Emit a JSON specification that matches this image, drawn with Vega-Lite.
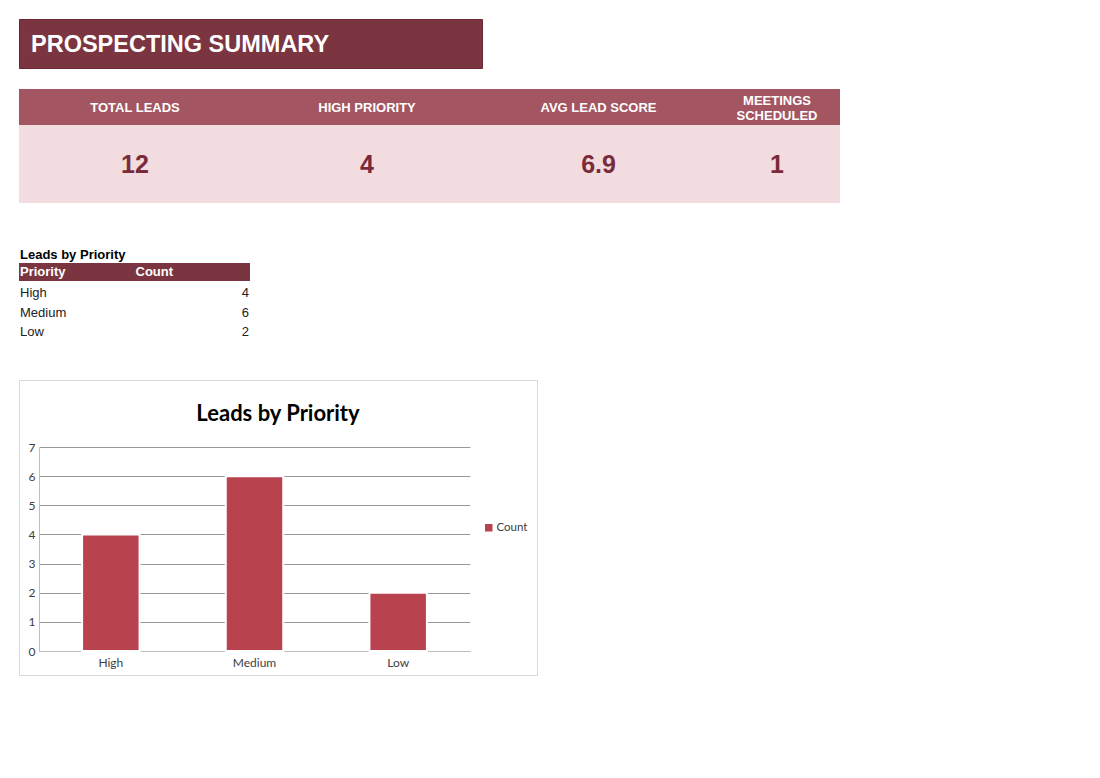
{
  "$schema": "https://vega.github.io/schema/vega-lite/v6.json",
  "background": "white",
  "padding": {"left": 18, "top": 18, "right": 260, "bottom": 100},
  "config": {
    "view": {"stroke": null},
    "font": "Liberation Sans",
    "text": {"font": "Liberation Sans"}
  },
  "datasets": {
    "title": [{"label": "PROSPECTING SUMMARY"}],
    "kpis": [
      {"metric": "TOTAL LEADS", "value": 12},
      {"metric": "HIGH PRIORITY", "value": 4},
      {"metric": "AVG LEAD SCORE", "value": 6.9},
      {"metric": "MEETINGS SCHEDULED", "value": 1}
    ],
    "columns": [{"column": "Priority"}, {"column": "Count"}],
    "priority": [
      {"Priority": "High", "Count": 4},
      {"Priority": "Medium", "Count": 6},
      {"Priority": "Low", "Count": 2}
    ]
  },
  "spacing": 20,
  "vconcat": [
    {
      "width": 463,
      "height": 49,
      "data": {"name": "title"},
      "view": {"fill": "#7B3541", "stroke": "#6A2433", "strokeWidth": 1},
      "mark": {"type": "text", "align": "left", "baseline": "middle", "dx": 12, "dy": 1, "fontSize": 23.5, "fontWeight": "bold", "color": "#FFFFFF"},
      "encoding": {
        "x": {"datum": 0, "type": "quantitative", "scale": {"domain": [0, 1]}, "axis": null},
        "text": {"field": "label", "type": "nominal"}
      }
    },
    {
      "spacing": 46,
      "vconcat": [
        {
          "spacing": 0,
          "hconcat": [
            {
              "spacing": 0,
              "bounds": "flush",
              "vconcat": [
                {"width": 232, "height": 36, "data": {"name": "kpis"}, "transform": [{"filter": "datum.metric == 'TOTAL LEADS'"}], "view": {"fill": "#A35562"},
                 "mark": {"type": "text", "fontSize": 13, "fontWeight": "bold", "color": "#FFFFFF", "dy": 1},
                 "encoding": {"text": {"field": "metric", "type": "nominal"}}},
                {"width": 232, "height": 78, "data": {"name": "kpis"}, "transform": [{"filter": "datum.metric == 'TOTAL LEADS'"}], "view": {"fill": "#F2DCE0"},
                 "mark": {"type": "text", "fontSize": 25, "fontWeight": "bold", "color": "#7A2B3B", "dy": 1},
                 "encoding": {"text": {"field": "value", "type": "quantitative", "format": "~g"}}}
              ]
            },
            {
              "spacing": 0,
              "bounds": "flush",
              "vconcat": [
                {"width": 232, "height": 36, "data": {"name": "kpis"}, "transform": [{"filter": "datum.metric == 'HIGH PRIORITY'"}], "view": {"fill": "#A35562"},
                 "mark": {"type": "text", "fontSize": 13, "fontWeight": "bold", "color": "#FFFFFF", "dy": 1},
                 "encoding": {"text": {"field": "metric", "type": "nominal"}}},
                {"width": 232, "height": 78, "data": {"name": "kpis"}, "transform": [{"filter": "datum.metric == 'HIGH PRIORITY'"}], "view": {"fill": "#F2DCE0"},
                 "mark": {"type": "text", "fontSize": 25, "fontWeight": "bold", "color": "#7A2B3B", "dy": 1},
                 "encoding": {"text": {"field": "value", "type": "quantitative", "format": "~g"}}}
              ]
            },
            {
              "spacing": 0,
              "bounds": "flush",
              "vconcat": [
                {"width": 231, "height": 36, "data": {"name": "kpis"}, "transform": [{"filter": "datum.metric == 'AVG LEAD SCORE'"}], "view": {"fill": "#A35562"},
                 "mark": {"type": "text", "fontSize": 13, "fontWeight": "bold", "color": "#FFFFFF", "dy": 1},
                 "encoding": {"text": {"field": "metric", "type": "nominal"}}},
                {"width": 231, "height": 78, "data": {"name": "kpis"}, "transform": [{"filter": "datum.metric == 'AVG LEAD SCORE'"}], "view": {"fill": "#F2DCE0"},
                 "mark": {"type": "text", "fontSize": 25, "fontWeight": "bold", "color": "#7A2B3B", "dy": 1},
                 "encoding": {"text": {"field": "value", "type": "quantitative", "format": "~g"}}}
              ]
            },
            {
              "spacing": 0,
              "bounds": "flush",
              "vconcat": [
                {"width": 126, "height": 36, "data": {"name": "kpis"}, "transform": [{"filter": "datum.metric == 'MEETINGS SCHEDULED'"}], "view": {"fill": "#A35562"},
                 "mark": {"type": "text", "fontSize": 13, "fontWeight": "bold", "color": "#FFFFFF", "lineBreak": " ", "lineHeight": 15, "dy": -6.5},
                 "encoding": {"text": {"field": "metric", "type": "nominal"}}},
                {"width": 126, "height": 78, "data": {"name": "kpis"}, "transform": [{"filter": "datum.metric == 'MEETINGS SCHEDULED'"}], "view": {"fill": "#F2DCE0"},
                 "mark": {"type": "text", "fontSize": 25, "fontWeight": "bold", "color": "#7A2B3B", "dy": 1},
                 "encoding": {"text": {"field": "value", "type": "quantitative", "format": "~g"}}}
              ]
            }
          ]
        },
        {
          "spacing": 37,
          "vconcat": [
            {
              "spacing": 2,
              "vconcat": [
                {
                  "width": 231,
                  "height": 18,
                  "title": {"text": "Leads by Priority", "anchor": "start", "fontSize": 13, "fontWeight": "bold", "color": "#000000", "font": "Liberation Sans", "offset": 1, "dx": 1},
                  "data": {"name": "columns"},
                  "view": {"fill": "#7B3541"},
                  "mark": {"type": "text", "align": "left", "dx": 1, "fontSize": 13, "fontWeight": "bold", "color": "#FFFFFF"},
                  "encoding": {
                    "x": {"field": "column", "type": "nominal", "sort": null, "bandPosition": 0, "scale": {"type": "band", "paddingInner": 0, "paddingOuter": 0}, "axis": null},
                    "text": {"field": "column", "type": "nominal"}
                  }
                },
                {
                  "width": 231,
                  "height": 59,
                  "data": {"name": "priority"},
                  "encoding": {
                    "y": {"field": "Priority", "type": "nominal", "sort": null, "scale": {"type": "band", "paddingInner": 0, "paddingOuter": 0}, "axis": null}
                  },
                  "layer": [
                    {
                      "mark": {"type": "text", "align": "left", "dx": 1, "fontSize": 13, "color": "#222222"},
                      "encoding": {
                        "x": {"datum": 0, "type": "quantitative", "scale": {"domain": [0, 1]}, "axis": null},
                        "text": {"field": "Priority", "type": "nominal"}
                      }
                    },
                    {
                      "mark": {"type": "text", "align": "right", "dx": -1, "fontSize": 13, "color": "#222222"},
                      "encoding": {
                        "x": {"datum": 1, "type": "quantitative", "scale": {"domain": [0, 1]}, "axis": null},
                        "text": {"field": "Count", "type": "quantitative"}
                      }
                    }
                  ]
                }
              ]
            },
            {
              "width": 518,
              "height": 295,
              "data": {"name": "priority"},
              "view": {"fill": "#FFFFFF", "stroke": "#D9D9D9", "strokeWidth": 1},
              "title": {"text": "Leads by Priority", "font": "Lato", "fontSize": 22, "fontWeight": "bold", "color": "#000000", "anchor": "middle", "frame": "group", "offset": -46},
              "mark": {"type": "bar", "stroke": "#FFFFFF", "strokeWidth": 2},
              "encoding": {
                "x": {
                  "field": "Priority", "type": "nominal", "sort": null,
                  "scale": {"type": "band", "range": [20, 451], "paddingInner": 0.6, "paddingOuter": 0.3},
                  "axis": {"orient": "bottom", "offset": -24, "title": null, "labelAngle": 0, "ticks": false, "domain": true, "domainColor": "#BFBFBF", "grid": false, "labelFont": "Lato", "labelFontSize": 12, "labelColor": "#404040", "labelPadding": 6}
                },
                "y": {
                  "field": "Count", "type": "quantitative",
                  "scale": {"domain": [0, 7], "range": [271, 67], "nice": false, "zero": true},
                  "axis": {"orient": "left", "offset": -20, "title": null, "values": [0, 1, 2, 3, 4, 5, 6, 7], "format": "d", "ticks": false, "domain": true, "domainColor": "#BFBFBF", "grid": true, "gridColor": "#999999", "gridWidth": 1, "labelFont": "Lato", "labelFontSize": 12, "labelColor": "#404040", "labelPadding": 4}
                },
                "color": {
                  "datum": "Count", "type": "nominal",
                  "scale": {"range": ["#B9424F"]},
                  "legend": {"title": null, "orient": "none", "legendX": 464, "legendY": 503, "symbolType": "square", "symbolSize": 56, "symbolStrokeWidth": 0, "labelFont": "Lato", "labelFontSize": 11.5, "labelColor": "#404040", "labelOffset": 2}
                }
              }
            }
          ]
        }
      ]
    }
  ]
}
